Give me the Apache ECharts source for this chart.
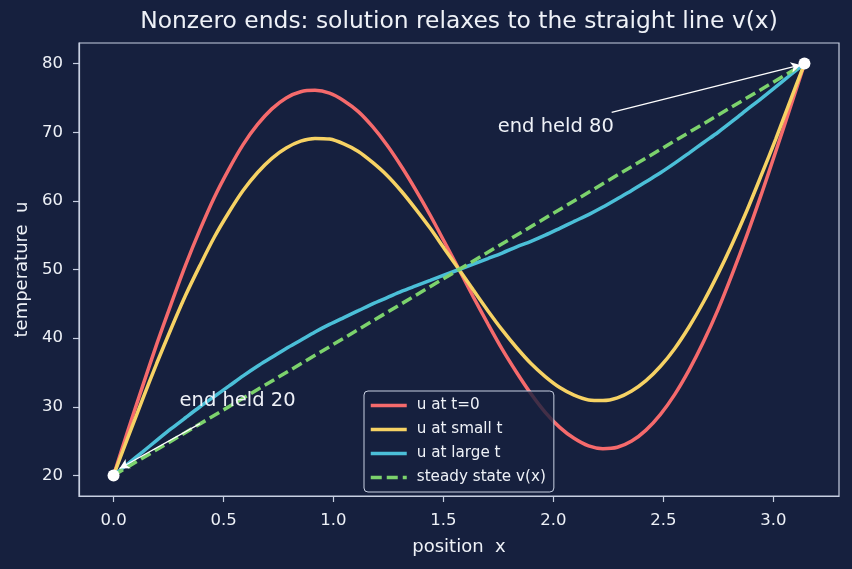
<!DOCTYPE html>
<html>
<head>
<meta charset="utf-8">
<script src="https://cdn.jsdelivr.net/npm/echarts@6/dist/echarts.min.js"></script>
<style>
html,body{margin:0;padding:0;background:#16203e;}
#chart{width:852px;height:569px;}
</style>
</head>
<body>
<div id="chart"></div>
<script>
// positions along rod
const xs = [0, 0.065, 0.131, 0.196, 0.262, 0.327, 0.393, 0.458, 0.524, 0.589, 0.654, 0.720, 0.785, 0.851, 0.916, 0.982, 1.047, 1.113, 1.178, 1.244, 1.309, 1.374, 1.440, 1.505, 1.571, 1.636, 1.702, 1.767, 1.833, 1.898, 1.963, 2.029, 2.094, 2.160, 2.225, 2.291, 2.356, 2.421, 2.487, 2.552, 2.618, 2.683, 2.749, 2.814, 2.880, 2.945, 3.011, 3.076, 3.142];
// u at t=0
const uT0 = [20, 26.5, 32.9, 39.1, 45.0, 50.6, 55.8, 60.5, 64.6, 68.2, 71.1, 73.4, 75.0, 75.9, 76.1, 75.7, 74.6, 73.0, 70.8, 68.1, 65.0, 61.6, 57.9, 54.0, 50.0, 46.0, 42.1, 38.4, 35.0, 31.9, 29.2, 27.0, 25.4, 24.3, 23.9, 24.1, 25.0, 26.6, 28.9, 31.8, 35.4, 39.5, 44.2, 49.4, 55.0, 60.9, 67.2, 73.5, 80];
// u at small t
const uSmall = [20, 25.5, 31.0, 36.3, 41.4, 46.2, 50.6, 54.7, 58.3, 61.5, 64.1, 66.2, 67.7, 68.7, 69.1, 69.0, 68.3, 67.2, 65.6, 63.7, 61.4, 58.8, 56.0, 53.0, 50.0, 47.0, 44.0, 41.2, 38.6, 36.3, 34.4, 32.8, 31.7, 31.0, 30.9, 31.3, 32.3, 33.8, 35.9, 38.5, 41.7, 45.3, 49.4, 53.8, 58.6, 63.7, 69.0, 74.5, 80];
// u at large t
const uLarge = [20, 21.7, 23.4, 25.1, 26.8, 28.4, 30.0, 31.5, 33.0, 34.5, 35.9, 37.2, 38.5, 39.7, 40.9, 42.0, 43.0, 44.0, 45.0, 45.9, 46.8, 47.6, 48.4, 49.2, 50.0, 50.8, 51.6, 52.4, 53.3, 54.1, 55.0, 56.0, 57.0, 58.0, 59.1, 60.3, 61.5, 62.8, 64.1, 65.5, 67.0, 68.5, 70.0, 71.6, 73.3, 74.9, 76.6, 78.3, 80];
// steady state line v(x)
const steadyX = [0, 3.1416];
const steadyV = [20, 80];
// held ends
const endX = [0, 3.1416];
const endU = [20, 80];
// tick labels
const xTicks = [0, 0.5, 1.0, 1.5, 2.0, 2.5, 3.0];
const yTicks = [20, 30, 40, 50, 60, 70, 80];
const seriesNames = ['u at t=0', 'u at small t', 'u at large t', 'steady state v(x)'];
// annotations
const annLeft = {text: 'end held 20', at: [0.3, 30.9], from: [0.393, 27.55], to: [0.027, 21.0]};
const annRight = {text: 'end held 80', at: [1.747, 70.8], from: [2.265, 72.9], to: [3.125, 79.8]};

const zip = (a, b) => a.map((v, i) => [v, b[i]]);
const FONT = 'DejaVu Sans';
const TXT = '#eef1f7';
const FRAME = '#c8d0e2';
const BG = '#16203e';
const LW = 3.5;

const chart = echarts.init(document.getElementById('chart'), null, {renderer: 'canvas'});

function annMark(a) {
  return {
    symbol: 'circle', symbolSize: 0,
    label: {show: true, formatter: a.text, color: TXT, fontFamily: FONT, fontSize: 19.5, position: [0, 0], align: 'left', verticalAlign: 'middle'},
    coord: a.at
  };
}

const option = {
  backgroundColor: BG,
  animation: false,
  graphic: [{
    type: 'text', x: 459, y: 22,
    style: {text: 'Nonzero ends: solution relaxes to the straight line v(x)', fill: TXT, font: '23.4px "DejaVu Sans"', textAlign: 'center', textVerticalAlign: 'middle'}
  }],
  grid: {left: 79, right: 13, top: 43, bottom: 73, show: true, borderColor: FRAME, borderWidth: 1.2, backgroundColor: 'transparent'},
  xAxis: {
    type: 'value', min: -0.1571, max: 3.2987,
    name: 'position  x', nameLocation: 'middle', nameGap: 42,
    nameTextStyle: {color: TXT, fontFamily: FONT, fontSize: 18},
    axisLine: {show: true, onZero: false, lineStyle: {color: FRAME, width: 1.2}},
    axisTick: {show: true, length: 6, lineStyle: {color: FRAME, width: 1.2}, customValues: xTicks},
    axisLabel: {color: TXT, fontFamily: FONT, fontSize: 16.5, margin: 16, customValues: xTicks, formatter: v => v.toFixed(1)},
    splitLine: {show: false}
  },
  yAxis: {
    type: 'value', min: 17, max: 83,
    name: 'temperature  u', nameLocation: 'middle', nameGap: 47,
    nameTextStyle: {color: TXT, fontFamily: FONT, fontSize: 18},
    axisLine: {show: true, onZero: false, lineStyle: {color: FRAME, width: 1.2}},
    axisTick: {show: true, length: 6, lineStyle: {color: FRAME, width: 1.2}, customValues: yTicks},
    axisLabel: {color: TXT, fontFamily: FONT, fontSize: 16.5, margin: 16, customValues: yTicks},
    splitLine: {show: false}
  },
  legend: {
    left: 364, top: 391, orient: 'vertical',
    itemWidth: 36, itemHeight: 14, itemGap: 9,
    padding: [7, 8, 7, 5],
    backgroundColor: 'rgba(22,32,62,0.8)', borderColor: FRAME, borderWidth: 1, borderRadius: 4,
    itemStyle: {opacity: 0},
    lineStyle: {width: LW},
    textStyle: {color: TXT, fontFamily: FONT, fontSize: 15.2, padding: [0, 0, 0, 5]},
    data: seriesNames, z: 10
  },
  series: [
    {name: seriesNames[0], type: 'line', data: zip(xs, uT0), smooth: 0.3, symbol: 'none', lineStyle: {color: '#f56a6c', width: LW}, itemStyle: {color: '#f56a6c'}},
    {name: seriesNames[1], type: 'line', data: zip(xs, uSmall), smooth: 0.3, symbol: 'none', lineStyle: {color: '#f6d264', width: LW}, itemStyle: {color: '#f6d264'}},
    {name: seriesNames[2], type: 'line', data: zip(xs, uLarge), smooth: 0.3, symbol: 'none', lineStyle: {color: '#4bbfd8', width: LW}, itemStyle: {color: '#4bbfd8'}},
    {name: seriesNames[3], type: 'line', data: zip(steadyX, steadyV), symbol: 'none', lineStyle: {color: '#7cd26c', width: LW, type: [11, 5]}, itemStyle: {color: '#7cd26c'}},
    {
      name: 'ends', type: 'scatter', data: zip(endX, endU), symbolSize: 12, z: 5,
      itemStyle: {color: '#ffffff', opacity: 1},
      markLine: {
        silent: true, symbol: ['none', 'arrow'], symbolSize: [8, 10],
        lineStyle: {color: '#ffffff', width: 1.3, type: 'solid', opacity: 1},
        label: {show: false},
        data: [
          [{coord: annLeft.from}, {coord: annLeft.to}],
          [{coord: annRight.from}, {coord: annRight.to}]
        ]
      },
      markPoint: {silent: true, data: [annMark(annLeft), annMark(annRight)]}
    }
  ]
};
chart.setOption(option);
</script>
</body>
</html>
